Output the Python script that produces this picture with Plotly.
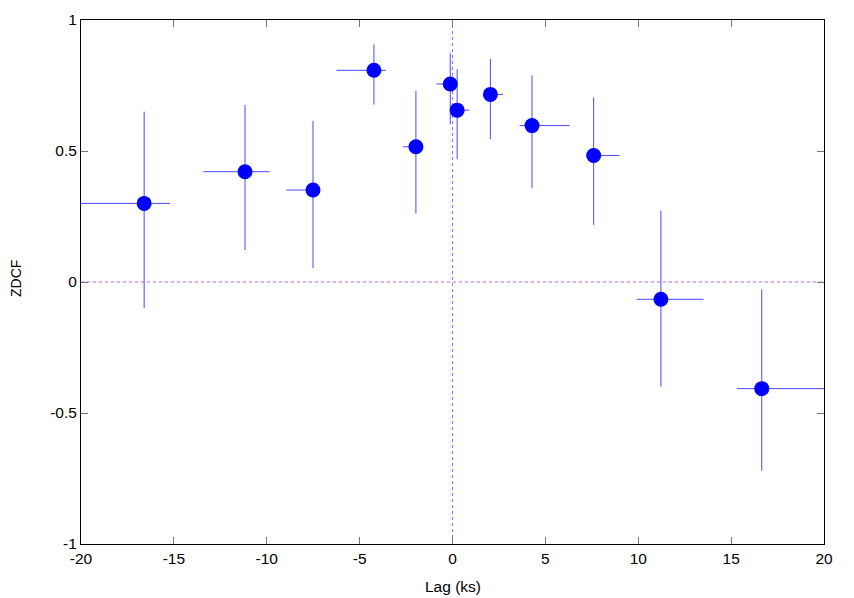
import plotly.graph_objects as go

# ZDCF points (lag in ks)
lag = [-16.60, -11.17, -7.51, -4.23, -1.97, -0.12, 0.25, 2.04, 4.28, 7.60, 11.22, 16.65]
zdcf = [0.300, 0.421, 0.351, 0.808, 0.516, 0.756, 0.656, 0.716, 0.597, 0.483, -0.066, -0.407]
lag_err_lo = [4.00, 2.25, 1.43, 2.02, 0.70, 0.74, 0.00, 0.00, 0.66, 0.00, 1.30, 1.35]
lag_err_hi = [1.39, 1.32, 0.00, 0.64, 0.00, 0.00, 0.66, 0.68, 2.03, 1.39, 2.29, 4.00]
zdcf_err_lo = [0.400, 0.299, 0.298, 0.131, 0.254, 0.154, 0.188, 0.171, 0.239, 0.265, 0.334, 0.313]
zdcf_err_hi = [0.350, 0.255, 0.264, 0.099, 0.213, 0.117, 0.156, 0.135, 0.192, 0.222, 0.338, 0.379]

x_ticks = [-20, -15, -10, -5, 0, 5, 10, 15, 20]
y_ticks = [-1, -0.5, 0, 0.5, 1]
y_ticktext = ['-1', '-0.5', '0', '0.5', '1']

bar_color = '#4848ff'
zero_color = '#c25cff'
font_name = 'Liberation Sans'

fig = go.Figure()

fig.add_trace(go.Scatter(
    x=lag, y=zdcf, mode='markers',
    marker=dict(color='#0000ff', size=15, line=dict(width=0)),
    error_x=dict(type='data', symmetric=False, array=lag_err_hi,
                 arrayminus=lag_err_lo, color=bar_color, thickness=1, width=0),
    error_y=dict(type='data', symmetric=False, array=zdcf_err_hi,
                 arrayminus=zdcf_err_lo, color=bar_color, thickness=1, width=0),
    showlegend=False,
))

# dotted zero axes
fig.add_shape(type='line', xref='paper', yref='y', x0=0, x1=1, y0=0, y1=0,
              line=dict(color=zero_color, width=1, dash='3px,3px'), layer='below')
fig.add_shape(type='line', xref='x', yref='paper', x0=0, x1=0, y0=0, y1=1,
              line=dict(color=zero_color, width=1, dash='3px,3px'), layer='below')

axis_common = dict(
    showgrid=False, zeroline=False, showline=True, linecolor='black',
    linewidth=1, mirror='ticks', ticks='inside', ticklen=7, tickwidth=1,
    tickcolor='#777777', automargin=False,
    tickfont=dict(family=font_name, size=15.5, color='black'),
)

fig.update_xaxes(range=[-20, 20], tickvals=x_ticks,
                 ticktext=[str(v) for v in x_ticks], **axis_common)
fig.update_yaxes(range=[-1, 1], tickvals=y_ticks, ticktext=y_ticktext,
                 **axis_common)

# axis labels placed as in the reference
fig.add_annotation(text='Lag (ks)', xref='paper', yref='paper', x=0.5, y=-0.0815,
                   xanchor='center', yanchor='middle', showarrow=False,
                   font=dict(family=font_name, size=15.5, color='black'))
fig.add_annotation(text='ZDCF', xref='paper', yref='paper', x=-0.0875, y=0.5076,
                   xanchor='center', yanchor='middle', showarrow=False, textangle=-90,
                   font=dict(family=font_name, size=14, color='black'))

# the page body adds an 8px margin, so the figure is slightly smaller
fig.update_layout(
    width=846, height=590,
    margin=dict(l=73, r=30, t=12, b=54, autoexpand=False),
    plot_bgcolor='white', paper_bgcolor='white',
    font=dict(family=font_name, size=15.5, color='black'),
)

fig.write_html("out.html")
